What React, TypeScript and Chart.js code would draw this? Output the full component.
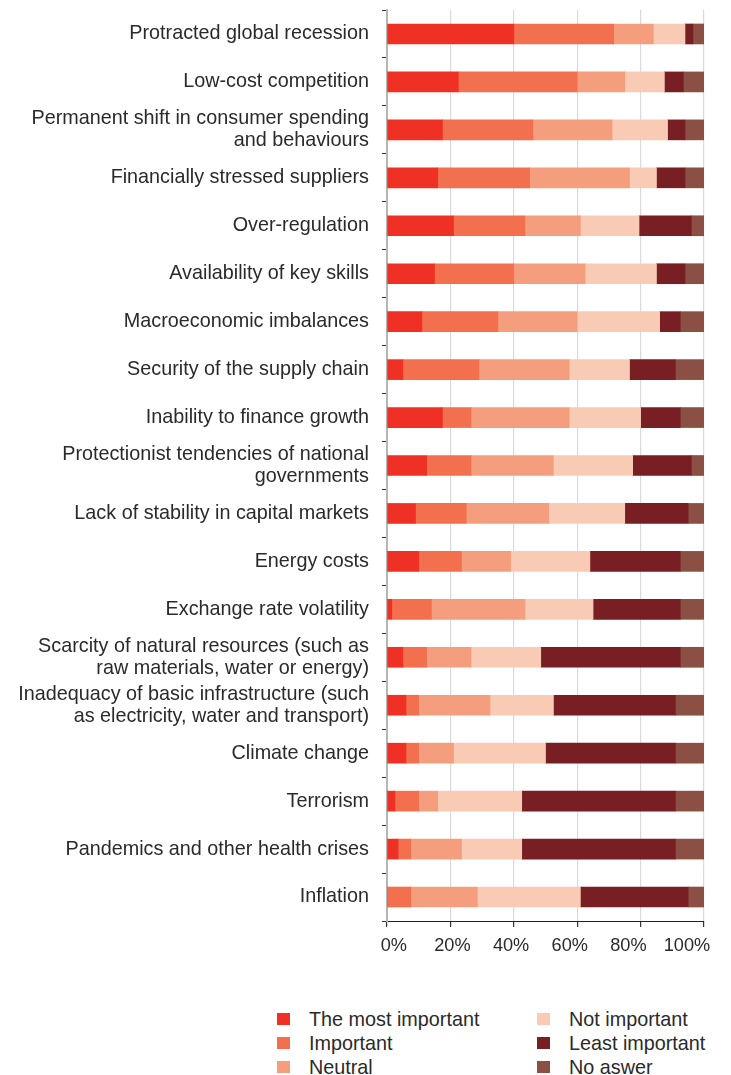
import React, { useEffect, useRef } from "react";
import { Chart, registerables } from "chart.js";

Chart.register(...registerables);

const categories: (string | string[])[] = [
  "Protracted global recession",
  "Low-cost competition",
  ["Permanent shift in consumer spending", "and behaviours"],
  "Financially stressed suppliers",
  "Over-regulation",
  "Availability of key skills",
  "Macroeconomic imbalances",
  "Security of the supply chain",
  "Inability to finance growth",
  ["Protectionist tendencies of national", "governments"],
  "Lack of stability in capital markets",
  "Energy costs",
  "Exchange rate volatility",
  ["Scarcity of natural resources (such as", "raw materials, water or energy)"],
  ["Inadequacy of basic infrastructure (such", "as electricity, water and transport)"],
  "Climate change",
  "Terrorism",
  "Pandemics and other health crises",
  "Inflation",
];

const seriesNames = [
  "The most important",
  "Important",
  "Neutral",
  "Not important",
  "Least important",
  "No aswer",
];

const mostImportant = [40, 22.5, 17.5, 16, 21, 15, 11, 5, 17.5, 12.5, 9, 10, 1.5, 5, 6, 6, 2.5, 3.5, 0];
const important = [31.5, 37.5, 28.5, 29, 22.5, 25, 24, 24, 9, 14, 16, 13.5, 12.5, 7.5, 4, 4, 7.5, 4, 7.5];
const neutral = [12.5, 15, 25, 31.5, 17.5, 22.5, 25, 28.5, 31, 26, 26, 15.5, 29.5, 14, 22.5, 11, 6, 16, 21];
const notImportant = [10, 12.5, 17.5, 8.5, 18.5, 22.5, 26, 19, 22.5, 25, 24, 25, 21.5, 22, 20, 29, 26.5, 19, 32.5];
const leastImportant = [2.5, 6, 5.5, 9, 16.5, 9, 6.5, 14.5, 12.5, 18.5, 20, 28.5, 27.5, 44, 38.5, 41, 48.5, 48.5, 34];
const noAnswer = [3.5, 6.5, 6, 6, 4, 6, 7.5, 9, 7.5, 4, 5, 7.5, 7.5, 7.5, 9, 9, 9, 9, 5];

const xTicks = [0, 20, 40, 60, 80, 100];

const colors = ["#EE3124", "#F2704E", "#F59E7D", "#FACBB4", "#771F23", "#8B4F44"];

const FONT = "'Liberation Sans', Arial, Helvetica, sans-serif";

export default function App() {
  const ref = useRef<HTMLCanvasElement | null>(null);

  useEffect(() => {
    if (!ref.current) return;
    const values = [mostImportant, important, neutral, notImportant, leastImportant, noAnswer];
    const chart = new Chart(ref.current, {
      type: "bar",
      data: {
        labels: categories,
        datasets: seriesNames.map((name, i) => ({
          label: name,
          data: values[i],
          backgroundColor: colors[i],
          borderWidth: 0,
          barThickness: 20,
        })),
      },
      options: {
        indexAxis: "y",
        responsive: false,
        animation: false,
        layout: { padding: { top: 10, right: 27, left: 0, bottom: 0 } },
        plugins: { legend: { display: false }, tooltip: { enabled: false } },
        scales: {
          x: {
            stacked: true,
            min: 0,
            max: 100,
            weight: 0,
            afterBuildTicks: (scale: any) => {
              scale.ticks = xTicks.map((v) => ({ value: v }));
            },
            afterFit: (scale: any) => {
              scale.height = 6;
              scale.paddingLeft = 0;
              scale.paddingRight = 0;
            },
            ticks: { display: false },
            grid: {
              color: "#d9d9d9",
              lineWidth: 1.2,
              tickColor: "#333333",
              tickLength: 6,
            },
            border: { color: "#222222", width: 1 },
          },
          xl: {
            type: "linear",
            position: "bottom",
            axis: "x",
            weight: 1,
            min: -2.32,
            max: 105.8,
            afterBuildTicks: (scale: any) => {
              scale.ticks = xTicks.map((v) => ({ value: v }));
            },
            afterFit: (scale: any) => {
              scale.height = 48;
              scale.paddingLeft = 0;
              scale.paddingRight = 0;
            },
            ticks: {
              callback: (v: any) => v + "%",
              color: "#2a2a2a",
              font: { family: FONT, size: 18.2 },
              padding: 8,
              maxRotation: 0,
              autoSkip: false,
            },
            grid: { display: false, drawTicks: false, drawOnChartArea: false },
            border: { display: false },
          },
          y: {
            stacked: true,
            afterFit: (scale: any) => {
              scale.width = 387;
              scale.paddingTop = 0;
              scale.paddingBottom = 0;
            },
            ticks: {
              color: "#2a2a2a",
              font: { family: FONT, size: 19.8, lineHeight: 1.11 },
              padding: 13,
              autoSkip: false,
            },
            grid: {
              drawOnChartArea: false,
              offset: true,
              tickColor: "#333333",
              tickLength: 5,
            },
            border: { color: "#b5b5b5", width: 2 },
          },
        },
      } as any,
    });
    return () => chart.destroy();
  }, []);

  const legendCols = [seriesNames.slice(0, 3), seriesNames.slice(3)];

  return (
    <div style={{ position: "absolute", left: 0, top: 0, width: 731, height: 1075, background: "#fff" }}>
      <canvas ref={ref} width={731} height={975} style={{ position: "absolute", left: 0, top: 0 }} />
      {legendCols.map((col, ci) =>
        col.map((name, ri) => {
          const idx = ci * 3 + ri;
          const left = ci === 0 ? 277 : 537;
          const cy = 1019 + ri * 23.8;
          return (
            <div key={name}>
              <div
                style={{
                  position: "absolute",
                  left,
                  top: cy - 6,
                  width: 13,
                  height: 12,
                  background: colors[idx],
                }}
              />
              <div
                style={{
                  position: "absolute",
                  left: left + 32,
                  top: cy - 12,
                  height: 24,
                  lineHeight: "24px",
                  fontFamily: FONT,
                  fontSize: 19.8,
                  color: "#2a2a2a",
                  whiteSpace: "nowrap",
                }}
              >
                {name}
              </div>
            </div>
          );
        })
      )}
    </div>
  );
}
